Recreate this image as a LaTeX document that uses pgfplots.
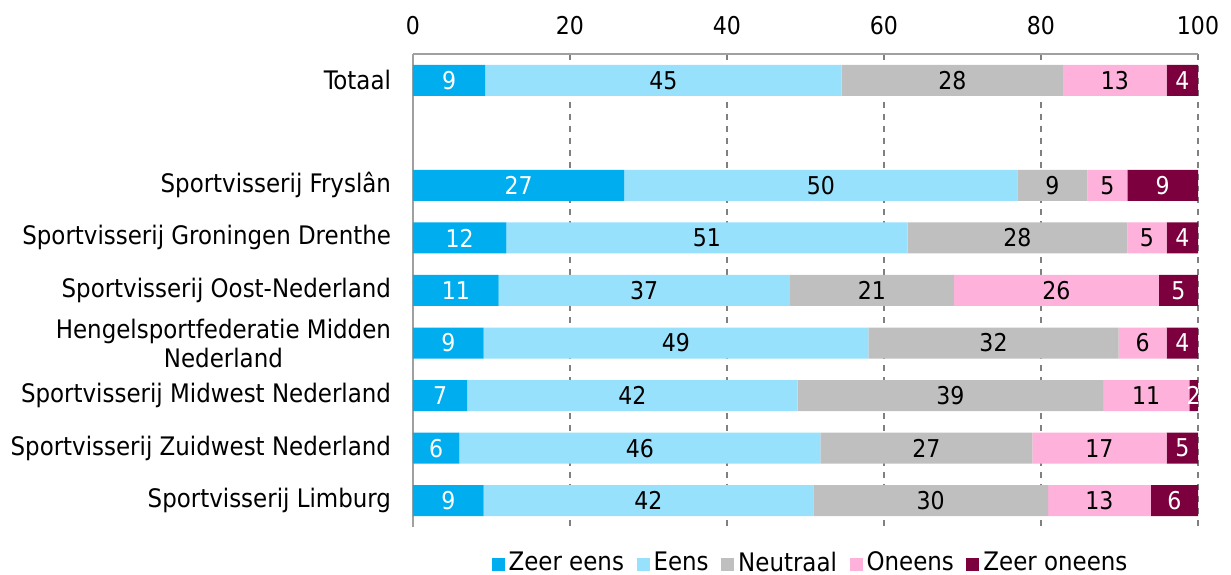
\documentclass[border=0pt]{standalone}
\usepackage{pgfplots}
\pgfplotsset{compat=1.18}
\usepackage{pgfplotstable}
\usepackage{fontspec}
\setmainfont{DejaVu Sans Condensed}

\definecolor{zeereens}{HTML}{00AEEF}
\definecolor{eens}{HTML}{97E1FD}
\definecolor{neutraal}{HTML}{BFBFBF}
\definecolor{oneens}{HTML}{FEB1DA}
\definecolor{zeeroneens}{HTML}{7C003E}
\definecolor{gridgray}{HTML}{808080}
\definecolor{axgray}{HTML}{A0A0A0}

% segment widths (a..e) and the printed labels (la..le)
\pgfplotstableread{
y  a    la  b    lb  c    lc  d    ld  e    le
0  9.2  9   45.4 45  28.2 28  13.2 13  4.0  4
2  26.9 27  50.1 50  8.9  9   5.1  5   9.0  9
3  11.9 12  51.1 51  28.0 28  5.0  5   4.0  4
4  10.9 11  37.1 37  20.9 21  26.1 26  5.0  5
5  9.0  9   49.0 49  31.9 32  6.1  6   4.0  4
6  6.9  7   42.1 42  38.9 39  11.0 11  1.1  2
7  5.9  6   46.0 46  27.0 27  17.1 17  4.0  5
8  9.0  9   42.0 42  29.9 30  13.1 13  6.0  6
}\data

\pgfplotsset{
  seg/.style n args={2}{
    fill=#1, draw=none,
    point meta=explicit symbolic,
    nodes near coords,
    every node near coord/.append style={anchor=center, text=#2,
      font=\fontsize{12.3}{14}\selectfont},
  },
}

\begin{document}
\begin{tikzpicture}
\begin{axis}[
  name=ax,
  font=\fontsize{12.8}{14.5}\selectfont,
  scale only axis,
  width=392.5bp, height=236.5bp,
  xbar stacked, bar width=0.59,
  xmin=0, xmax=100,
  ymin=-0.5, ymax=8.5,
  y dir=reverse,
  axis x line*=top, axis y line*=left,
  axis line style={axgray, line width=0.6pt},
  xtick={0,20,...,100},
  xticklabel style={yshift=6bp, font=\fontsize{12.3}{14}\selectfont},
  major tick length=0pt,
  xmajorgrids, major grid style={gridgray, dashed, line width=0.6pt},
  ytick={0,2,3,4,5,6,7,8},
  yticklabels={Totaal, Sportvisserij Fryslân, Sportvisserij Groningen Drenthe,
    Sportvisserij Oost-Nederland, {Hengelsportfederatie Midden\\Nederland},
    Sportvisserij Midwest Nederland, Sportvisserij Zuidwest Nederland,
    Sportvisserij Limburg},
  yticklabel style={align=center, xshift=-7.5bp},
  /pgf/number format/assume math mode=true,
  legend columns=-1,
  legend style={draw=none, at={(0.5,0)}, anchor=center, yshift=-18bp,
    xshift=3bp, inner sep=1bp, fill=none,
    /tikz/every even column/.append style={column sep=4.3bp}},
  legend image code/.code={\fill[#1] (0bp,-4bp) rectangle (6.5bp,2.5bp);},
]
\addplot[seg={zeereens}{white}] table[x=a, y=y, meta=la] {\data};
\addplot[seg={eens}{black}] table[x=b, y=y, meta=lb] {\data};
\addplot[seg={neutraal}{black}] table[x=c, y=y, meta=lc] {\data};
\addplot[seg={oneens}{black}] table[x=d, y=y, meta=ld] {\data};
\addplot[seg={zeeroneens}{white}] table[x=e, y=y, meta=le] {\data};
\legend{Zeer eens, Eens, Neutraal, Oneens, Zeer oneens}
\end{axis}
\pgfresetboundingbox
\path ([xshift=-206.5bp,yshift=-24bp]ax.south west) rectangle ([xshift=16.5bp,yshift=27bp]ax.north east);
\end{tikzpicture}
\end{document}
